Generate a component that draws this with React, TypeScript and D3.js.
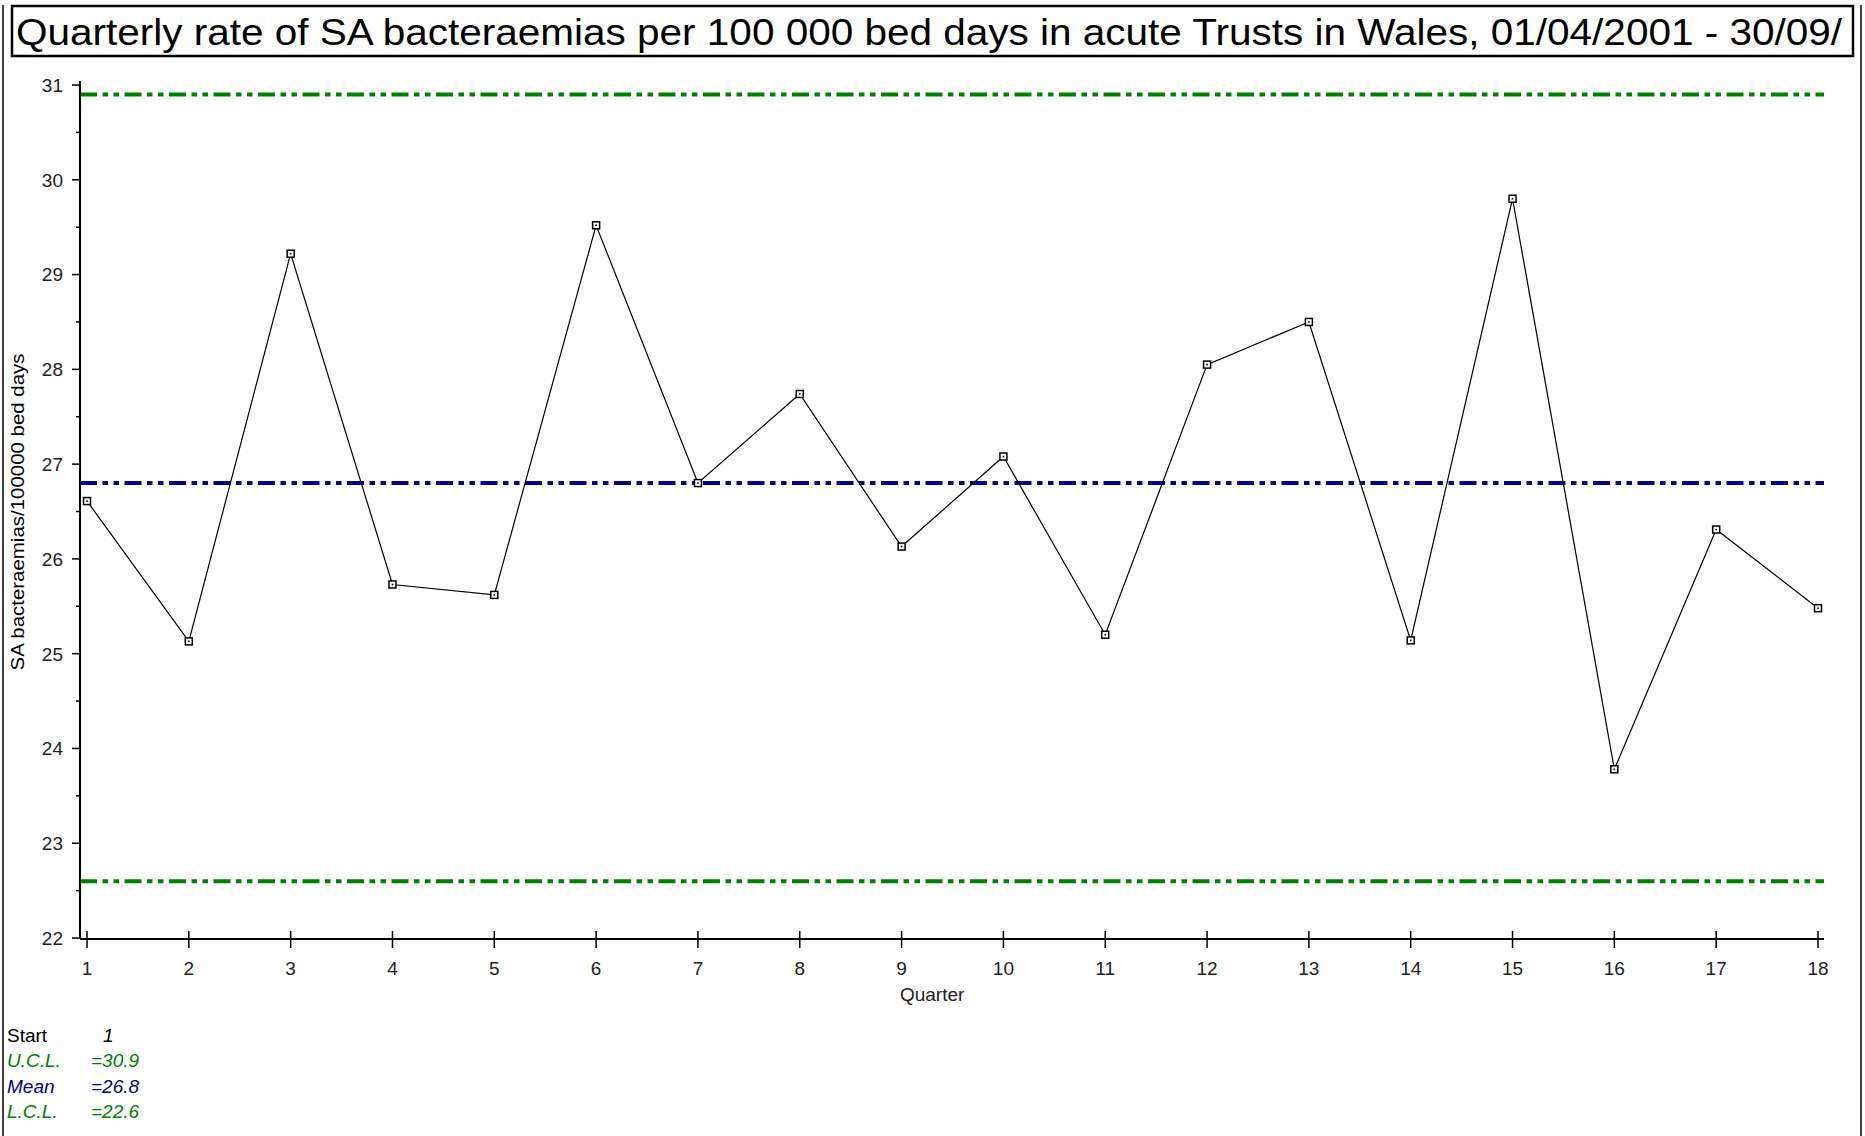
import React, { useEffect, useRef } from 'react';
import * as d3 from 'd3';

// quarterly SA bacteraemia rates
const quarters = [1, 2, 3, 4, 5, 6, 7, 8, 9, 10, 11, 12, 13, 14, 15, 16, 17, 18];
const rates = [26.61, 25.13, 29.22, 25.73, 25.62, 29.52, 26.8, 27.74, 26.13, 27.08, 25.2, 28.05, 28.5, 25.14, 29.8, 23.78, 26.31, 25.48];
const yTicks = [22, 23, 24, 25, 26, 27, 28, 29, 30, 31];
const yMinorTicks = [22.5, 23.5, 24.5, 25.5, 26.5, 27.5, 28.5, 29.5, 30.5];
const limitNames = ['U.C.L.', 'Mean', 'L.C.L.'];
const limitValues = [30.9, 26.8, 22.6];

const TITLE = 'Quarterly rate of SA bacteraemias per 100 000 bed days in acute Trusts in Wales, 01/04/2001 - 30/09/';
const FONT = '"Liberation Sans", Arial, sans-serif';
const GREEN = '#008000';
const NAVY = '#00008b';

const W = 1865;
const H = 1136;

export default function App() {
  const ref = useRef<SVGSVGElement | null>(null);

  useEffect(() => {
    const svg = d3.select(ref.current);
    svg.selectAll('*').remove();

    const x = d3.scaleLinear().domain([1, 18]).range([87, 1818]);
    const y = d3.scaleLinear().domain([22, 31]).range([938, 85]);
    const left = 80;
    const right = 1824;
    const limitColors = [GREEN, NAVY, GREEN];

    svg.append('rect').attr('width', W).attr('height', H).attr('fill', '#fff');

    // page frame
    svg.append('line').attr('x1', 3).attr('x2', 3).attr('y1', 5).attr('y2', H)
      .attr('stroke', '#000').attr('stroke-width', 1.5);
    svg.append('line').attr('x1', 1861).attr('x2', 1861).attr('y1', 5).attr('y2', H)
      .attr('stroke', '#000').attr('stroke-width', 1.5);

    // title box
    svg.append('rect').attr('x', 12).attr('y', 6).attr('width', 1841).attr('height', 50)
      .attr('fill', '#fff').attr('stroke', '#000').attr('stroke-width', 2.5);
    svg.append('text').attr('x', 16).attr('y', 45)
      .attr('font-family', FONT).attr('font-size', 37)
      .attr('textLength', 1826).attr('lengthAdjust', 'spacingAndGlyphs')
      .text(TITLE);

    // control limits
    svg.selectAll('.limit')
      .data(limitValues)
      .enter()
      .append('line')
      .attr('class', 'limit')
      .attr('x1', left).attr('x2', right)
      .attr('y1', d => y(d)).attr('y2', d => y(d))
      .attr('stroke', (d, i) => limitColors[i])
      .attr('stroke-width', 4)
      .attr('stroke-dasharray', '17,5.5,5.5,5.5,5.5,5.5');

    // y axis
    const g = svg.append('g').attr('font-family', FONT).attr('font-size', 19);
    g.append('line').attr('x1', left).attr('x2', left).attr('y1', 81).attr('y2', 939)
      .attr('stroke', '#000').attr('stroke-width', 2);
    g.selectAll('.ytick').data(yTicks).enter().append('line')
      .attr('x1', 72).attr('x2', left).attr('y1', d => y(d)).attr('y2', d => y(d))
      .attr('stroke', '#000').attr('stroke-width', 1.5);
    g.selectAll('.yminor').data(yMinorTicks).enter().append('line')
      .attr('x1', 76).attr('x2', left).attr('y1', d => y(d)).attr('y2', d => y(d))
      .attr('stroke', '#000').attr('stroke-width', 1.5);
    g.selectAll('.ylabel').data(yTicks).enter().append('text')
      .attr('x', 63).attr('y', d => y(d)).attr('dy', '0.36em')
      .attr('text-anchor', 'end').attr('fill', '#222')
      .text(d => d);
    g.append('text')
      .attr('transform', 'translate(24,512) rotate(-90)')
      .attr('text-anchor', 'middle').attr('font-size', 18)
      .attr('textLength', 317).attr('lengthAdjust', 'spacingAndGlyphs')
      .text('SA bacteraemias/100000 bed days');

    // x axis
    g.append('line').attr('x1', left).attr('x2', right).attr('y1', 939).attr('y2', 939)
      .attr('stroke', '#000').attr('stroke-width', 2);
    g.selectAll('.xtick').data(quarters).enter().append('line')
      .attr('x1', d => x(d)).attr('x2', d => x(d)).attr('y1', 931).attr('y2', 948)
      .attr('stroke', '#000').attr('stroke-width', 1.5);
    g.selectAll('.xlabel').data(quarters).enter().append('text')
      .attr('x', d => x(d)).attr('y', 975)
      .attr('text-anchor', 'middle').attr('fill', '#222')
      .text(d => d);
    g.append('text').attr('x', x(9.3)).attr('y', 1001)
      .attr('text-anchor', 'middle').attr('fill', '#222')
      .text('Quarter');

    // series
    const line = d3.line<number>()
      .x((d, i) => x(quarters[i]))
      .y(d => y(d));
    svg.append('path').datum(rates)
      .attr('d', line)
      .attr('fill', 'none').attr('stroke', '#000').attr('stroke-width', 1.2);

    const pts = svg.selectAll('.pt').data(rates).enter().append('g')
      .attr('class', 'pt')
      .attr('transform', (d, i) => `translate(${x(quarters[i])},${y(d)})`);
    pts.append('rect').attr('x', -3.5).attr('y', -3.5).attr('width', 7).attr('height', 7)
      .attr('fill', '#fff').attr('stroke', '#000').attr('stroke-width', 1.5);
    pts.append('rect').attr('x', -0.8).attr('y', -0.8).attr('width', 1.6).attr('height', 1.6)
      .attr('fill', '#000');

    // legend
    const leg = svg.append('g').attr('font-family', FONT).attr('font-size', 19);
    leg.append('text').attr('x', 7).attr('y', 1042).text('Start');
    leg.append('text').attr('x', 103).attr('y', 1042).attr('font-style', 'italic').text('1');
    leg.selectAll('.lname').data(limitNames).enter().append('text')
      .attr('x', 7).attr('y', (d, i) => 1067 + i * 25.5)
      .attr('font-style', 'italic').attr('fill', (d, i) => limitColors[i])
      .text(d => d);
    leg.selectAll('.lval').data(limitValues).enter().append('text')
      .attr('x', 91).attr('y', (d, i) => 1067 + i * 25.5)
      .attr('font-style', 'italic').attr('fill', (d, i) => limitColors[i])
      .text(d => '=' + d.toFixed(1));
  }, []);

  return (
    <svg ref={ref} width={W} height={H}
      style={{ position: 'absolute', left: 0, top: 0, display: 'block' }} />
  );
}
